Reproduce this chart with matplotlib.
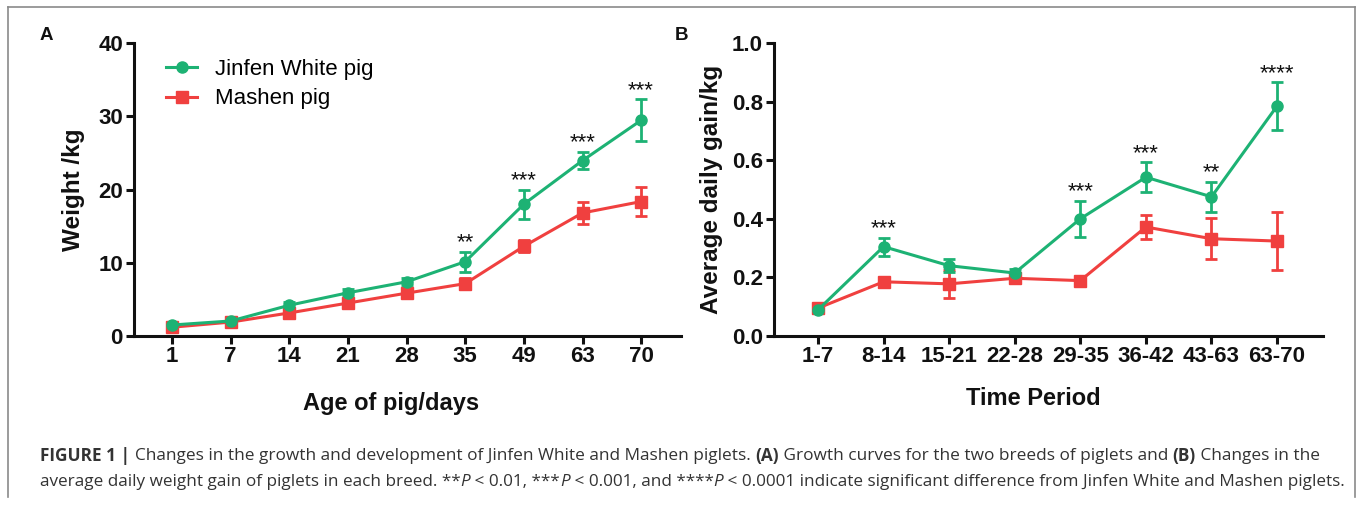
import matplotlib
matplotlib.use("Agg")
import matplotlib.pyplot as plt
from matplotlib.lines import Line2D
from matplotlib.transforms import offset_copy
import numpy as np

# ---------------- data ----------------
ages = ["1", "7", "14", "21", "28", "35", "49", "63", "70"]
jinfen_weight = [1.5, 2.05, 4.2, 5.9, 7.4, 10.15, 18.0, 23.95, 29.45]
jinfen_weight_err = [0.3, 0.3, 0.4, 0.45, 0.5, 1.35, 2.0, 1.15, 2.85]
mashen_weight = [1.2, 1.9, 3.15, 4.5, 5.85, 7.15, 12.25, 16.8, 18.35]
mashen_weight_err = [0.25, 0.3, 0.35, 0.4, 0.45, 0.7, 0.8, 1.5, 1.95]
weight_sig = ["", "", "", "", "", "**", "***", "***", "***"]

periods = ["1-7", "8-14", "15-21", "22-28", "29-35", "36-42", "43-63", "63-70"]
jinfen_gain = [0.089, 0.305, 0.240, 0.215, 0.400, 0.542, 0.475, 0.785]
jinfen_gain_err = [0.008, 0.031, 0.022, 0.015, 0.061, 0.051, 0.051, 0.081]
mashen_gain = [0.095, 0.185, 0.178, 0.197, 0.189, 0.372, 0.332, 0.324]
mashen_gain_err = [0.01, 0.012, 0.048, 0.012, 0.012, 0.04, 0.07, 0.1]
gain_sig = ["", "***", "", "", "***", "***", "**", "****"]

GREEN = "#1DB274"
RED = "#F0403F"
INK = "#111111"
REG = ["Liberation Sans", "DejaVu Sans"]
CAP = ["Open Sans", "Liberation Sans", "DejaVu Sans"]

W, H = 1357.0, 505.0
fig = plt.figure(figsize=(W / 100, H / 100), dpi=100)


def fx(px):
    return px / W


def fy(py):
    return 1 - py / H


def style_axes(ax):
    for s in ["top", "right"]:
        ax.spines[s].set_visible(False)
    for s in ["left", "bottom"]:
        ax.spines[s].set_linewidth(2.2)
        ax.spines[s].set_color(INK)
    ax.tick_params(axis="x", direction="out", width=2.2, length=6, color=INK,
                   labelsize=16, pad=1)
    ax.tick_params(axis="y", direction="out", width=2.2, length=6, color=INK,
                   labelsize=16, pad=2)
    for lab in ax.get_xticklabels() + ax.get_yticklabels():
        lab.set_fontfamily(REG)
        lab.set_fontweight("bold")
        lab.set_color(INK)


def draw_series(ax, x, y, e, color, marker, ms):
    ax.errorbar(x, y, yerr=e, color=color, lw=2.2, marker=marker, ms=ms,
                capsize=4.3, elinewidth=2.0, capthick=2.0, zorder=3)


def stars(ax, x, y, e, sig):
    tr = offset_copy(ax.transData, fig=fig, x=0, y=9, units="dots")
    for i, s in enumerate(sig):
        if s:
            ax.text(x[i], y[i] + e[i], s, transform=tr, ha="center",
                    va="center", fontsize=16, family=REG, color=INK)


def labels(ax, xl, yl, xpos, ypos):
    ax.set_xlabel(xl, fontsize=17, fontweight="bold", family=REG, color=INK)
    ax.set_ylabel(yl, fontsize=17.5, fontweight="bold", family=REG, color=INK)
    ax.xaxis.label.set_va("center")
    ax.yaxis.label.set_va("center")
    ax.xaxis.set_label_coords(xpos[0], xpos[1])
    ax.yaxis.set_label_coords(ypos[0], ypos[1])


# ---------------- panel A ----------------
axA = fig.add_axes([fx(134), fy(336), fx(681) - fx(134), fy(43) - fy(336)])
xa = np.arange(len(ages))
draw_series(axA, xa, mashen_weight, mashen_weight_err, RED, "s", 8.5)
draw_series(axA, xa, jinfen_weight, jinfen_weight_err, GREEN, "o", 8)
axA.set_xlim(-0.65, len(ages) - 1 + 0.68)
axA.set_ylim(0, 40)
axA.set_yticks([0, 10, 20, 30, 40])
axA.set_xticks(xa)
axA.set_xticklabels(ages)
style_axes(axA)
labels(axA, "Age of pig/days", "Weight /kg", (0.47, -0.229), (-0.11, 0.50))
stars(axA, xa, jinfen_weight, jinfen_weight_err, weight_sig)

handles = [Line2D([], [], color=GREEN, marker="o", lw=2.2, ms=8),
           Line2D([], [], color=RED, marker="s", lw=2.2, ms=8.5)]
fig.legend(handles, ["Jinfen White pig", "Mashen pig"], loc="upper left",
           bbox_to_anchor=(fx(166), fy(59)), bbox_transform=fig.transFigure,
           frameon=False, borderpad=0, borderaxespad=0,
           prop={"family": REG, "size": 16}, handlelength=1.4,
           handletextpad=0.8, labelspacing=0.38)

# ---------------- panel B ----------------
axB = fig.add_axes([fx(774), fy(336), fx(1323) - fx(774), fy(43) - fy(336)])
xb = np.arange(len(periods))
draw_series(axB, xb, mashen_gain, mashen_gain_err, RED, "s", 8.5)
draw_series(axB, xb, jinfen_gain, jinfen_gain_err, GREEN, "o", 8)
axB.set_xlim(-0.67, len(periods) - 1 + 0.70)
axB.set_ylim(0, 1.0)
axB.set_yticks([0.0, 0.2, 0.4, 0.6, 0.8, 1.0])
axB.set_yticklabels(["0.0", "0.2", "0.4", "0.6", "0.8", "1.0"])
axB.set_xticks(xb)
axB.set_xticklabels(periods)
style_axes(axB)
labels(axB, "Time Period", "Average daily gain/kg", (0.472, -0.212), (-0.113, 0.50))
stars(axB, xb, jinfen_gain, jinfen_gain_err, gain_sig)

# panel letters
fig.text(fx(40), fy(36), "A", fontsize=13.5, fontweight="bold", family=REG,
         va="center", ha="left", color=INK)
fig.text(fx(675), fy(36), "B", fontsize=13.5, fontweight="bold", family=REG,
         va="center", ha="left", color=INK)

# frame (open at the bottom)
fc = "#8a8a8a"
fig.add_artist(Line2D([fx(7.5), fx(7.5)], [fy(7), fy(497)], color=fc, lw=1.2))
fig.add_artist(Line2D([fx(7.5), fx(1354.5)], [fy(7), fy(7)], color=fc, lw=1.2))
fig.add_artist(Line2D([fx(1354.5), fx(1354.5)], [fy(7), fy(497)], color=fc, lw=1.2))

# ---------------- caption ----------------
fig.canvas.draw()
renderer = fig.canvas.get_renderer()


def rich_line(x0, y0, pieces, size, color="#333333"):
    x = fx(x0)
    arts = []
    for txt, weight, style in pieces:
        t = fig.text(x, fy(y0), txt, fontsize=size, fontweight=weight,
                     fontstyle=style, family=CAP, color=color, va="center", ha="left")
        bb = t.get_window_extent(renderer=renderer)
        x += bb.width / W
        arts.append(t)
    return arts, x * W - x0


def fitted_line(x0, y0, x1, pieces, size0=11.0):
    arts, width = rich_line(x0, y0, pieces, size0)
    for a in arts:
        a.remove()
    size = size0 * (x1 - x0) / width
    rich_line(x0, y0, pieces, size)


line1 = [("FIGURE 1 | ", "bold", "normal"),
         ("Changes in the growth and development of Jinfen White and Mashen piglets. ", "normal", "normal"),
         ("(A)", "bold", "normal"),
         (" Growth curves for the two breeds of piglets and ", "normal", "normal"),
         ("(B)", "bold", "normal"),
         (" Changes in the", "normal", "normal")]
line2 = [("average daily weight gain of piglets in each breed. **", "normal", "normal"),
         ("P", "normal", "italic"),
         (" < 0.01, ***", "normal", "normal"),
         ("P", "normal", "italic"),
         (" < 0.001, and ****", "normal", "normal"),
         ("P", "normal", "italic"),
         (" < 0.0001 indicate significant difference from Jinfen White and Mashen piglets.", "normal", "normal")]
fitted_line(40, 456, 1317, line1)
fitted_line(40, 482, 1345, line2)

fig.savefig("out.png", dpi=100, facecolor="white")
